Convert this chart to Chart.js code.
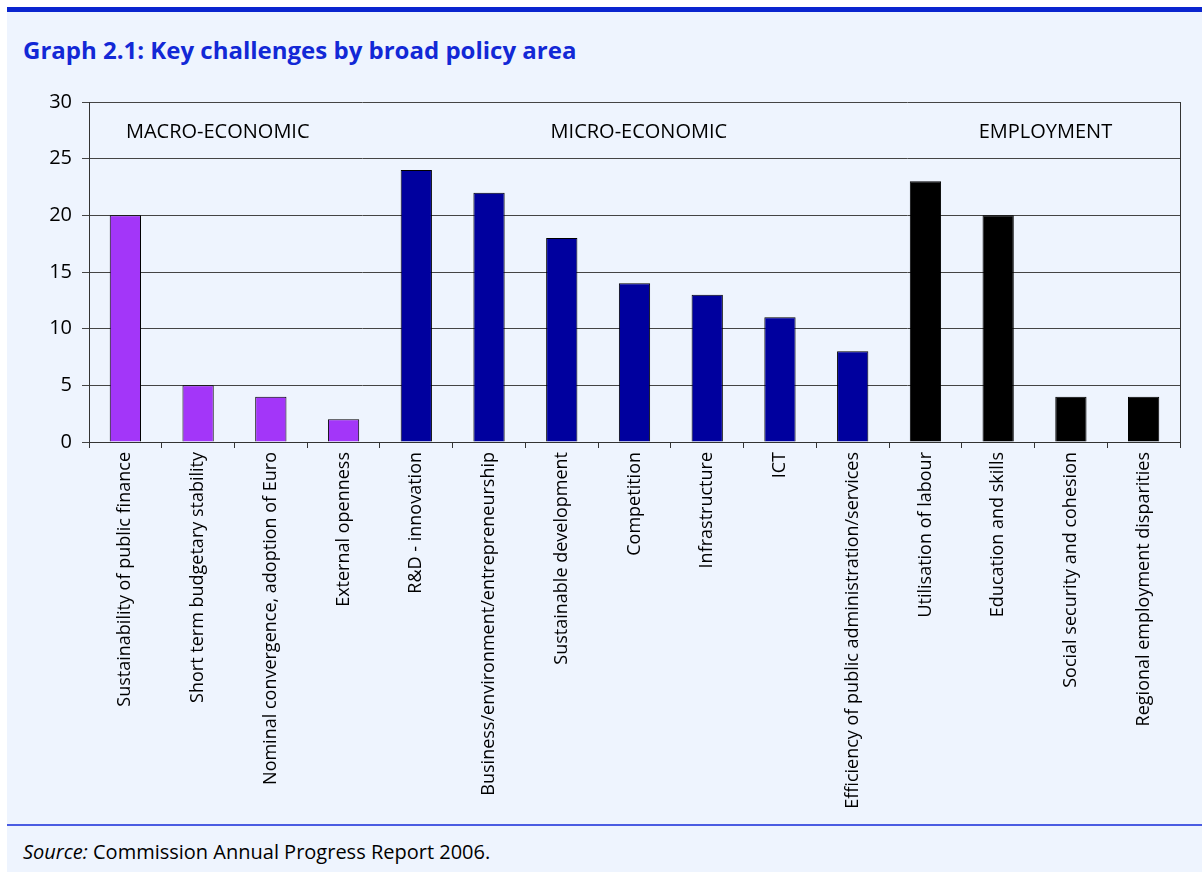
<!DOCTYPE html>
<html>
<head>
<meta charset="utf-8">
<style>
  body { margin: 0; background: #fff; font-family: "Open Sans", sans-serif; }
  #panel {
    position: absolute; left: 7px; top: 7px; width: 1195px; height: 865px;
    background: #eef4fe; border-top: 5px solid #0a25cf; box-sizing: border-box;
  }
  h2 {
    position: absolute; left: 16px; top: 21px; margin: 0;
    font-size: 24px; font-weight: bold; color: #1228d6;
  }
  #wrap { position: absolute; left: -7px; top: 68px; width: 1202px; height: 740px; }
  #rule { position: absolute; left: 0; right: 0; top: 812px; height: 2px; background: #4a5ce2; }
  #source { position: absolute; left: 16px; top: 826px; font-size: 20px; color: #000; }
</style>
</head>
<body>
<div id="panel">
  <h2>Graph 2.1: Key challenges by broad policy area</h2>
  <div id="wrap"><canvas id="chart" width="1202" height="740"></canvas></div>
  <div id="rule"></div>
  <div id="source"><i>Source:</i> Commission Annual Progress Report 2006.</div>
</div>

<script src="https://cdn.jsdelivr.net/npm/chart.js"></script>
<script>
const categories = [
  'Sustainability of public finance',
  'Short term budgetary stability',
  'Nominal convergence, adoption of Euro',
  'External openness',
  'R&D - innovation',
  'Business/environment/entrepreneurship',
  'Sustainable development',
  'Competition',
  'Infrastructure',
  'ICT',
  'Efficiency of public administration/services',
  'Utilisation of labour',
  'Education and skills',
  'Social security and cohesion',
  'Regional employment disparities'
];
const values = [20, 5, 4, 2, 24, 22, 18, 14, 13, 11, 8, 23, 20, 4, 4];
const areaOf = [0, 0, 0, 0, 1, 1, 1, 1, 1, 1, 1, 2, 2, 2, 2];
const areaNames = ['MACRO-ECONOMIC', 'MICRO-ECONOMIC', 'EMPLOYMENT'];
const areaColors = ['#a336f9', '#00009e', '#000000'];
const yTicks = [0, 5, 10, 15, 20, 25, 30];

// where the area names sit (category index, value)
const areaLabelX = [1.27, 7.06, 12.65];
const areaLabelY = 27.3;

const areaLabels = {
  id: 'areaLabels',
  afterDraw(chart) {
    const ctx = chart.ctx, x = chart.scales.x, y = chart.scales.y;
    const a = chart.chartArea;
    ctx.save();
    // right border of the plot
    ctx.strokeStyle = '#333';
    ctx.lineWidth = 1;
    ctx.beginPath();
    ctx.moveTo(Math.round(a.right) + 0.5, a.top);
    ctx.lineTo(Math.round(a.right) + 0.5, a.bottom);
    ctx.stroke();
    ctx.fillStyle = '#000';
    ctx.font = '20px "Open Sans"';
    ctx.textAlign = 'center';
    ctx.textBaseline = 'middle';
    areaNames.forEach((n, i) => {
      ctx.fillText(n, x.getPixelForValue(areaLabelX[i]), y.getPixelForValue(areaLabelY));
    });
    ctx.restore();
  }
};

new Chart(document.getElementById('chart'), {
  type: 'bar',
  data: {
    labels: categories,
    datasets: [{
      data: values,
      backgroundColor: areaOf.map(a => areaColors[a]),
      borderColor: '#000',
      borderWidth: 1,
      borderSkipped: 'bottom',
      categoryPercentage: 1,
      barPercentage: 0.43
    }]
  },
  options: {
    responsive: false,
    animation: false,
    layout: { padding: { top: 17, right: 22, left: 0, bottom: 0 } },
    plugins: { legend: { display: false }, tooltip: { enabled: false } },
    scales: {
      x: {
        grid: { display: true, drawOnChartArea: false, drawTicks: true, tickLength: 6, color: '#333', offset: true },
        border: { display: true, color: '#333' },
        ticks: {
          autoSkip: false, minRotation: 90, maxRotation: 90, padding: 4,
          color: '#000', font: { family: 'Open Sans', size: 18 }
        },
        afterFit(s) { s.height = 378; }
      },
      y: {
        min: 0, max: 30,
        afterBuildTicks(s) { s.ticks = yTicks.map(v => ({ value: v })); },
        grid: { color: '#444', lineWidth: 1, tickLength: 7 },
        border: { display: true, color: '#333' },
        ticks: { padding: 10, color: '#000', font: { family: 'Open Sans', size: 20 } },
        afterFit(s) { s.width = 89; }
      }
    }
  },
  plugins: [areaLabels]
});
</script>
</body>
</html>
